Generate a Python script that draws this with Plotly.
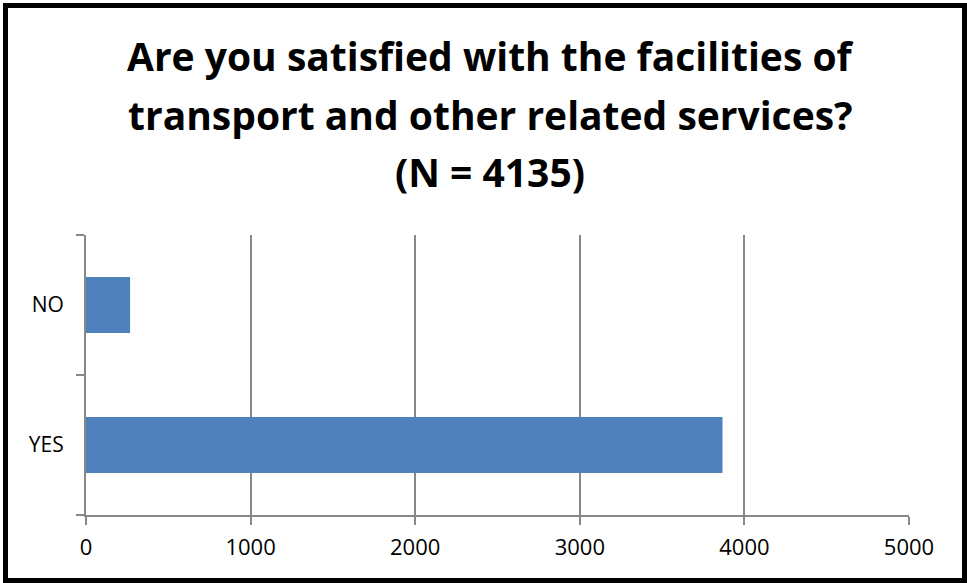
import plotly.graph_objects as go

# Survey answers
categories = ["YES", "NO"]
counts = [3867, 268]
title_lines = [
    "Are you satisfied with the facilities of",
    "transport and other related services?",
    "(N = 4135)",
]
x_ticks = [0, 1000, 2000, 3000, 4000, 5000]

W, H = 967, 583
ML, MR, MT, MB = 86, 58, 235, 68
PW, PH = W - ML - MR, H - MT - MB


def px_x(p):
    return (p - ML) / PW


def px_y(p):
    return (H - MB - p) / PH


GRID = "#878787"

fig = go.Figure(
    go.Bar(
        x=counts,
        y=categories,
        orientation="h",
        width=0.4,
        marker=dict(color="#4F81BD", line=dict(width=0)),
        hoverinfo="x+y",
    )
)

annotations = []
for line, ypx in zip(title_lines, [55, 114, 172]):
    annotations.append(
        dict(
            text=f"<b>{line}</b>",
            x=px_x(490),
            y=px_y(ypx),
            xref="paper",
            yref="paper",
            xanchor="center",
            yanchor="middle",
            showarrow=False,
            font=dict(family="Open Sans", size=39, color="#000000"),
        )
    )

fig.update_layout(
    width=W,
    height=H,
    margin=dict(l=ML, r=MR, t=MT, b=MB, pad=0),
    paper_bgcolor="white",
    plot_bgcolor="white",
    showlegend=False,
    annotations=annotations,
    shapes=[
        dict(
            type="rect",
            xref="paper",
            yref="paper",
            x0=px_x(5.5),
            x1=px_x(964.5),
            y0=px_y(580.5),
            y1=px_y(5.5),
            line=dict(color="#000000", width=5),
            fillcolor="rgba(0,0,0,0)",
            layer="above",
        )
    ],
    xaxis=dict(
        range=[0, 5000],
        tickvals=x_ticks,
        ticktext=[str(v) for v in x_ticks],
        showgrid=True,
        gridcolor=GRID,
        gridwidth=2,
        zeroline=False,
        showline=True,
        linecolor=GRID,
        linewidth=2,
        ticks="outside",
        ticklen=8,
        tickwidth=2,
        tickcolor=GRID,
        ticklabelstandoff=4,
        tickfont=dict(family="Open Sans", size=22, color="#000000"),
        fixedrange=True,
    ),
    yaxis=dict(
        type="category",
        categoryorder="array",
        categoryarray=categories,
        range=[-0.5, 1.5],
        showgrid=False,
        zeroline=False,
        showline=True,
        linecolor=GRID,
        linewidth=2,
        ticks="outside",
        tickson="boundaries",
        ticklen=8,
        tickwidth=2,
        tickcolor=GRID,
        ticklabelstandoff=16,
        tickfont=dict(family="Open Sans", size=21, color="#000000"),
        fixedrange=True,
    ),
)

fig.write_html("out.html")
